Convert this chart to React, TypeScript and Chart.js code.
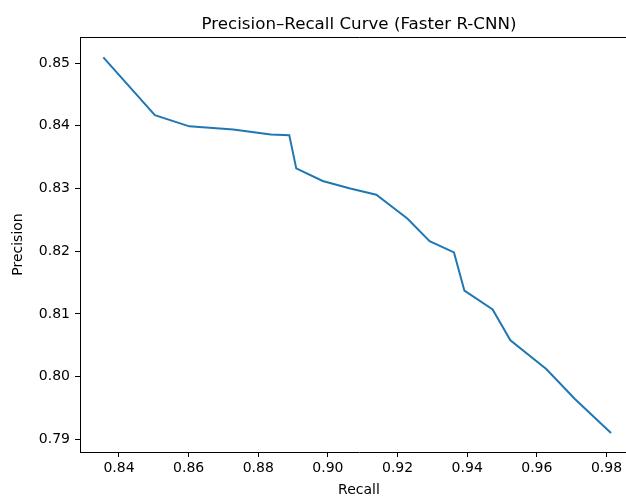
import React, { useEffect, useRef } from "react";
import { Chart, registerables } from "chart.js";

Chart.register(...registerables);

const recall = [0.8355, 0.8503, 0.8602, 0.8728, 0.8836, 0.8889, 0.8909, 0.8985, 0.9064, 0.9139, 0.9228, 0.9292, 0.9362, 0.9392, 0.9473, 0.9524, 0.9627, 0.9710, 0.9813];
const precision = [0.8509, 0.8417, 0.8399, 0.8394, 0.8386, 0.8385, 0.8332, 0.8312, 0.8300, 0.8290, 0.8252, 0.8216, 0.8198, 0.8137, 0.8107, 0.8058, 0.8012, 0.7964, 0.7910];
const xTicks = [0.84, 0.86, 0.88, 0.90, 0.92, 0.94, 0.96, 0.98];
const yTicks = [0.79, 0.80, 0.81, 0.82, 0.83, 0.84, 0.85];
const titleText = "Precision–Recall Curve (Faster R-CNN)";
const xLabel = "Recall";
const yLabel = "Precision";

const FONT = '"DejaVu Sans", sans-serif';

export default function App() {
  const ref = useRef<HTMLCanvasElement | null>(null);

  useEffect(() => {
    document.body.style.margin = "0";
    const canvas = ref.current;
    if (!canvas) return;

    const framePlugin = {
      id: "frame",
      afterDraw(chart: any) {
        const { ctx, chartArea } = chart;
        const { left, right, top } = chartArea;
        ctx.save();
        ctx.strokeStyle = "#000";
        ctx.lineWidth = 1;
        ctx.beginPath();
        ctx.moveTo(left + 0.5, top + 0.5);
        ctx.lineTo(right, top + 0.5);
        ctx.stroke();
        ctx.fillStyle = "#000";
        ctx.font = `16.7px ${FONT}`;
        ctx.textAlign = "center";
        ctx.textBaseline = "alphabetic";
        ctx.fillText(titleText, (left + right) / 2, 28.5);
        ctx.restore();
      },
    };

    const chart = new Chart(canvas, {
      type: "line",
      data: {
        datasets: [
          {
            data: recall.map((r, i) => ({ x: r, y: precision[i] })),
            borderColor: "#1f77b4",
            borderWidth: 2,
            pointRadius: 0,
            tension: 0,
            fill: false,
          },
        ],
      },
      options: {
        responsive: false,
        animation: false,
        devicePixelRatio: 1,
        layout: { padding: { top: 37, right: 22, left: 0, bottom: 0 } },
        plugins: {
          legend: { display: false },
          tooltip: { enabled: false },
          title: { display: false },
        },
        scales: {
          x: {
            type: "linear",
            min: 0.8288,
            max: 0.98905,
            afterFit(s: any) {
              s.height = 47;
            },
            afterBuildTicks(s: any) {
              s.ticks = xTicks.map((v) => ({ value: v }));
            },
            ticks: {
              color: "#000",
              font: { family: FONT, size: 14 },
              padding: 3,
              maxRotation: 0,
              autoSkip: false,
              callback: (v: any) => Number(v).toFixed(2),
            },
            grid: {
              drawOnChartArea: false,
              drawTicks: true,
              tickLength: 5,
              color: "#000",
            },
            border: { display: true, color: "#000", width: 1 },
            title: {
              display: true,
              text: xLabel,
              color: "#000",
              font: { family: FONT, size: 14 },
              padding: { top: 0, bottom: 0 },
            },
          },
          y: {
            type: "linear",
            min: 0.78798,
            max: 0.85415,
            afterFit(s: any) {
              s.width = 80;
            },
            afterBuildTicks(s: any) {
              s.ticks = yTicks.map((v) => ({ value: v }));
            },
            ticks: {
              color: "#000",
              font: { family: FONT, size: 14 },
              padding: 5,
              autoSkip: false,
              callback: (v: any) => Number(v).toFixed(2),
            },
            grid: {
              drawOnChartArea: false,
              drawTicks: true,
              tickLength: 5,
              color: "#000",
            },
            border: { display: true, color: "#000", width: 1 },
            title: {
              display: true,
              text: yLabel,
              color: "#000",
              font: { family: FONT, size: 14 },
              padding: { top: 10, bottom: 0 },
            },
          },
        },
      },
      plugins: [framePlugin],
    });

    return () => chart.destroy();
  }, []);

  return (
    <div style={{ width: 626, height: 499, overflow: "hidden", position: "relative" }}>
      <canvas
        ref={ref}
        width={660}
        height={499}
        style={{ width: 660, height: 499, display: "block" }}
      />
    </div>
  );
}
